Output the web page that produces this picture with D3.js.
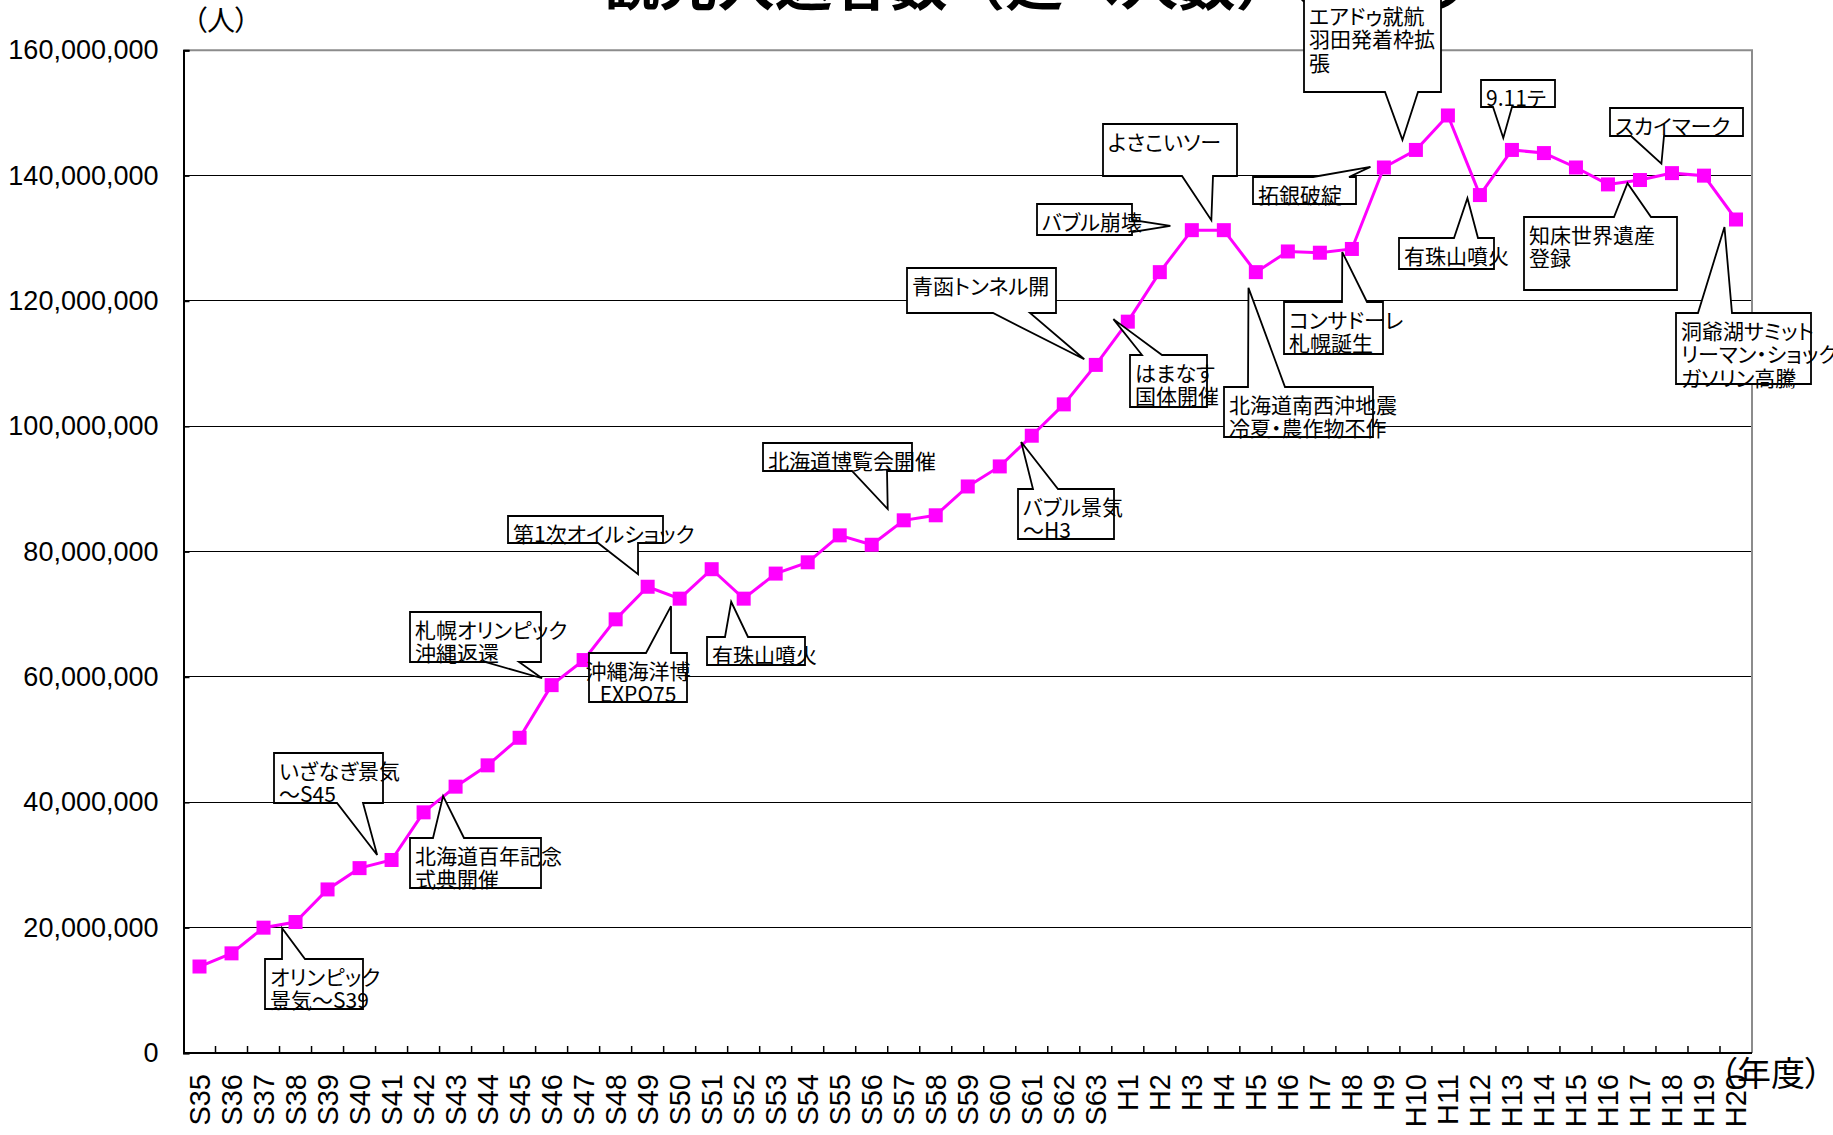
<!DOCTYPE html>
<html>
<head>
<meta charset="utf-8">
<script src="https://cdn.jsdelivr.net/npm/d3@7"></script>
<style>
    html, body { margin: 0; padding: 0; background: #fff; }
    svg { display: block; }
</style>
</head>
<body>
<svg id="chart" width="1833" height="1135"></svg>
<script>
// fiscal years (Showa 35 .. Heisei 20)
const categories = ["S35", "S36", "S37", "S38", "S39", "S40", "S41", "S42", "S43", "S44",
    "S45", "S46", "S47", "S48", "S49", "S50", "S51", "S52", "S53", "S54",
    "S55", "S56", "S57", "S58", "S59", "S60", "S61", "S62", "S63",
    "H1", "H2", "H3", "H4", "H5", "H6", "H7", "H8", "H9", "H10",
    "H11", "H12", "H13", "H14", "H15", "H16", "H17", "H18", "H19", "H20"];

// visitors (persons)
const visitors = [13800000, 15900000, 20000000, 20900000, 26100000, 29500000, 30800000, 38400000, 42500000, 45900000,
    50300000, 58700000, 62700000, 69200000, 74400000, 72500000, 77200000, 72500000, 76500000, 78300000,
    82600000, 81100000, 85000000, 85800000, 90400000, 93600000, 98500000, 103500000, 109800000,
    116700000, 124600000, 131300000, 131300000, 124600000, 127900000, 127700000, 128300000, 141300000, 144100000,
    149600000, 136900000, 144100000, 143600000, 141300000, 138600000, 139300000, 140400000, 140000000, 133000000];

const yTicks = [0, 20000000, 40000000, 60000000, 80000000, 100000000, 120000000, 140000000, 160000000];

const titleText = "観光入込客数（延べ人数）の推移";
const yUnit = "（人）";
const xUnit = "（年度）";

// event callouts: box in px, tail side, tail base along that edge, tip as [category index, millions]
const callouts = [
    { lines: ["オリンピック", "景気～S39"], box: [265, 959, 363, 1009], side: "top", base: [282, 305], tip: [2.58, 19.9] },
    { lines: ["いざなぎ景気", "～S45"], box: [274, 753, 383, 803], side: "bottom", base: [337, 363], tip: [5.55, 31.6] },
    { lines: ["北海道百年記念", "式典開催"], box: [410, 838, 541, 888], side: "top", base: [433, 464], tip: [7.61, 41.0] },
    { lines: ["札幌オリンピック", "沖縄返還"], box: [410, 612, 541, 662], side: "bottom", base: [485, 519], tip: [10.7, 59.8] },
    { lines: ["第1次オイルショック"], box: [508, 516, 663, 543], side: "bottom", base: [598, 638], tip: [13.7, 76.4] },
    { lines: ["沖縄海洋博", "EXPO75"], box: [589, 653, 687, 702], side: "top", base: [646, 671], tip: [14.73, 71.3], center: true },
    { lines: ["有珠山噴火"], box: [707, 637, 805, 665], side: "top", base: [725, 748], tip: [16.61, 72.0] },
    { lines: ["北海道博覧会開催"], box: [763, 443, 912, 471], side: "bottom", base: [852, 887], tip: [21.5, 86.8] },
    { lines: ["バブル景気", "～H3"], box: [1018, 489, 1114, 539], side: "top", base: [1033, 1058], tip: [25.67, 97.5] },
    { lines: ["青函トンネル開"], box: [907, 268, 1056, 313], side: "bottom", base: [993, 1030], tip: [27.64, 110.7] },
    { lines: ["はまなす", "国体開催"], box: [1130, 355, 1207, 407], side: "top", base: [1142, 1162], tip: [28.55, 117.1] },
    { lines: ["バブル崩壊"], box: [1037, 204, 1132, 235], side: "right", base: [220, 232], tip: [30.33, 132.0] },
    { lines: ["よさこいソー"], box: [1103, 124, 1237, 176], side: "bottom", base: [1182, 1213], tip: [31.61, 132.9] },
    { lines: ["北海道南西沖地震", "冷夏・農作物不作"], box: [1224, 387, 1373, 437], side: "top", base: [1248, 1285], tip: [32.77, 122.1] },
    { lines: ["コンサドーレ", "札幌誕生"], box: [1284, 302, 1383, 354], side: "top", base: [1342, 1367], tip: [35.7, 127.8] },
    { lines: ["拓銀破綻"], box: [1253, 177, 1356, 204], side: "top", base: [1313, 1349], tip: [36.58, 141.4] },
    { lines: ["エアドゥ就航", "羽田発着枠拡", "張"], box: [1304, -2, 1441, 92], side: "bottom", base: [1385, 1418], tip: [37.58, 145.7] },
    { lines: ["有珠山噴火"], box: [1399, 238, 1494, 269], side: "top", base: [1454, 1478], tip: [39.61, 136.4] },
    { lines: ["9.11テ"], box: [1481, 80, 1555, 107], side: "bottom", base: [1493, 1512], tip: [40.73, 146.0] },
    { lines: ["知床世界遺産", "登録"], box: [1524, 217, 1677, 290], side: "top", base: [1614, 1651], tip: [44.61, 138.8] },
    { lines: ["スカイマーク"], box: [1610, 108, 1743, 136], side: "bottom", base: [1631, 1664], tip: [45.67, 141.9] },
    { lines: ["洞爺湖サミット", "リーマン・ショック", "ガソリン高騰"], box: [1676, 313, 1811, 384], side: "top", base: [1698, 1732], tip: [47.64, 131.8] }
];

var svg = d3.select("#chart"),
    width = +svg.attr("width"),
    height = +svg.attr("height"),
    margin = { left: 183.5, right: 81, top: 50.3, bottom: 82 };

var jpFont = "'Noto Sans CJK JP', 'Noto Sans', sans-serif",
    numFont = "'Liberation Sans', Arial, sans-serif";

var x = d3.scaleBand()
    .domain(categories)
    .range([margin.left, width - margin.right])
    .padding(0);

var y = d3.scaleLinear()
    .domain([0, 160000000])
    .range([height - margin.bottom, margin.top]);

var x0 = x.range()[0], x1 = x.range()[1],
    yb = y(0), yt = y(160000000);

svg.append("rect").attr("width", width).attr("height", height).attr("fill", "#fff");

// gridlines
svg.append("g").attr("class", "grid")
    .selectAll("line")
    .data(yTicks.filter(d => d > 0 && d < 160000000)).enter()
    .append("line")
    .attr("x1", x0).attr("x2", x1)
    .attr("y1", d => y(d)).attr("y2", d => y(d))
    .attr("stroke", "#000").attr("stroke-width", 1)
    .attr("shape-rendering", "crispEdges");

// plot frame (top / right in grey)
svg.append("path")
    .attr("d", "M" + x0 + "," + yt + "H" + x1 + "V" + yb)
    .attr("fill", "none").attr("stroke", "#8c8c8c").attr("stroke-width", 2);

// y axis
var yAxis = svg.append("g")
    .attr("transform", "translate(" + x0 + ",0)")
    .call(d3.axisLeft(y).tickValues(yTicks).tickFormat(d3.format(",")).tickSize(-6).tickPadding(25));
yAxis.select(".domain").attr("stroke", "#000").attr("stroke-width", 2);
yAxis.selectAll(".tick line").attr("stroke", "#000").attr("stroke-width", 1.5);
yAxis.selectAll(".tick text")
    .style("font", "27px " + numFont).attr("fill", "#000");

// x axis: labels rotated, ticks between categories pointing inward
var xg = svg.append("g").attr("class", "x-axis");
xg.append("line")
    .attr("x1", x0).attr("x2", x1).attr("y1", yb).attr("y2", yb)
    .attr("stroke", "#000").attr("stroke-width", 2);
xg.selectAll(".xtick")
    .data(categories.slice(1)).enter()
    .append("line")
    .attr("x1", d => x(d)).attr("x2", d => x(d))
    .attr("y1", yb).attr("y2", yb - 7)
    .attr("stroke", "#000").attr("stroke-width", 1.5);
xg.selectAll(".xlabel")
    .data(categories).enter()
    .append("text")
    .attr("transform", d => "translate(" + (x(d) + x.bandwidth() / 2) + "," + (yb + 21) + ") rotate(-90)")
    .attr("text-anchor", "end")
    .attr("dy", "0.36em")
    .style("font", "29px " + numFont)
    .attr("fill", "#000")
    .text(d => d);

// unit labels
svg.append("text")
    .attr("x", 193).attr("y", 31)
    .style("font", "28px " + jpFont).style("font-feature-settings", "'palt' 1")
    .attr("fill", "#000").text(yUnit);
svg.append("text")
    .attr("x", 1720).attr("y", 1086)
    .style("font", "34px " + jpFont).style("font-feature-settings", "'palt' 1")
    .attr("fill", "#000").text(xUnit);

// series
var cx = d => x(d.cat) + x.bandwidth() / 2;
var pts = categories.map((c, i) => ({ cat: c, value: visitors[i] }));

svg.append("path")
    .datum(pts)
    .attr("fill", "none")
    .attr("stroke", "#ff00ff")
    .attr("stroke-width", 3)
    .attr("d", d3.line().x(cx).y(d => y(d.value)));

var mk = 14;
svg.append("g").selectAll("rect")
    .data(pts).enter()
    .append("rect")
    .attr("x", d => cx(d) - mk / 2).attr("y", d => y(d.value) - mk / 2)
    .attr("width", mk).attr("height", mk)
    .attr("fill", "#ff00ff");

// title (partly off the top edge, under the callouts)
svg.append("text")
    .attr("x", 602).attr("y", 5)
    .attr("textLength", 864).attr("lengthAdjust", "spacingAndGlyphs")
    .style("font", "bold 56px " + jpFont)
    .attr("fill", "#000")
    .text(titleText);

// callouts
var tipPos = function (t) {
    return [x0 + (t[0] + 0.5) * x.bandwidth(), y(t[1] * 1000000)];
};

var calloutPath = function (c) {
    var b = c.box, t = tipPos(c.tip), p = [];
    p.push([b[0], b[1]]);
    if (c.side == "top") p.push([c.base[0], b[1]], t, [c.base[1], b[1]]);
    p.push([b[2], b[1]]);
    if (c.side == "right") p.push([b[2], c.base[0]], t, [b[2], c.base[1]]);
    p.push([b[2], b[3]]);
    if (c.side == "bottom") p.push([c.base[1], b[3]], t, [c.base[0], b[3]]);
    p.push([b[0], b[3]]);
    return "M" + p.map(q => q[0] + "," + q[1]).join("L") + "Z";
};

var cg = svg.append("g").attr("class", "callouts")
    .selectAll("g")
    .data(callouts).enter()
    .append("g");

cg.append("path")
    .attr("d", calloutPath)
    .attr("fill", "#fff")
    .attr("stroke", "#000")
    .attr("stroke-width", 1.8)
    .attr("stroke-linejoin", "miter");

cg.each(function (c) {
    var g = d3.select(this);
    var tx = c.center ? (c.box[0] + c.box[2]) / 2 : c.box[0] + 5;
    c.lines.forEach(function (l, i) {
        g.append("text")
            .attr("x", tx)
            .attr("y", c.box[1] + 25.5 + i * 23.5)
            .attr("text-anchor", c.center ? "middle" : "start")
            .style("font", "21px " + jpFont)
            .style("font-feature-settings", "'palt' 1")
            .attr("fill", "#000")
            .text(l);
    });
});
</script>
</body>
</html>
